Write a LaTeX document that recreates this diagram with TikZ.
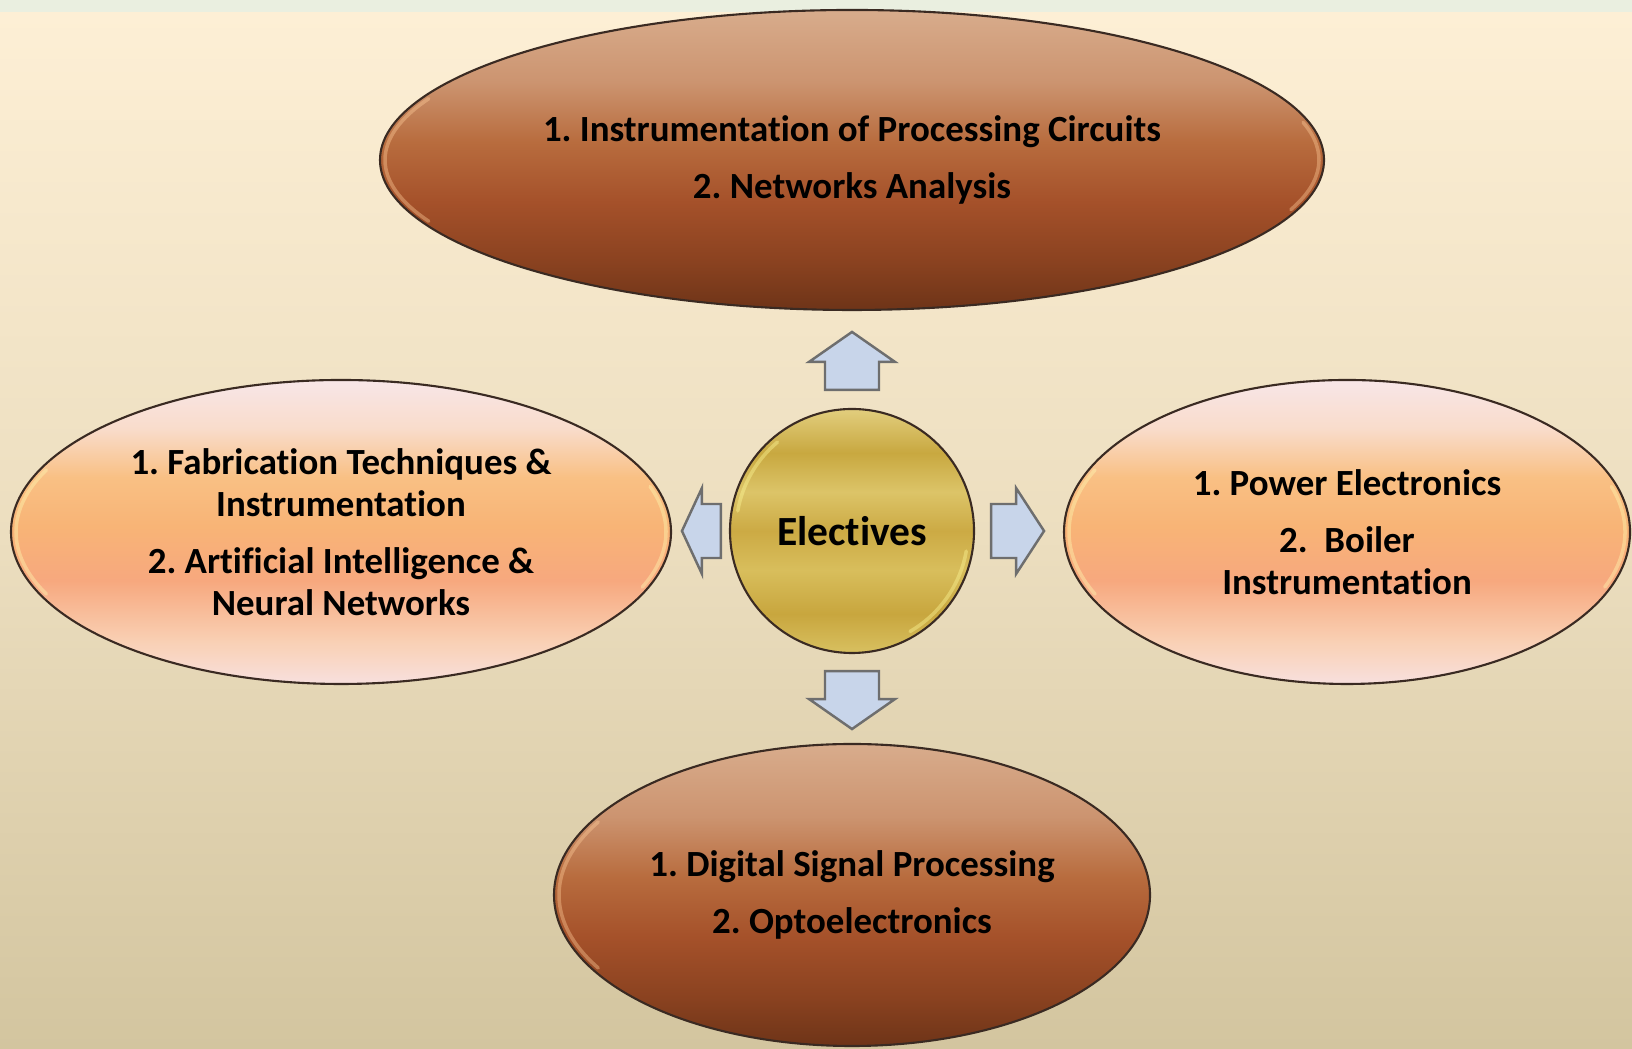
\documentclass[tikz,border=0pt]{standalone}
\usepackage{fontspec}
\setmainfont[Ligatures=NoCommon]{Carlito}
\usetikzlibrary{calc,positioning,shapes.geometric}

\definecolor{bgtop}{HTML}{FDEFD5}
\definecolor{bgbot}{HTML}{D3C59F}
\definecolor{stripgreen}{HTML}{EAEFE0}
\definecolor{edgedark}{HTML}{3A2A22}
\definecolor{arrowblue}{HTML}{C8D5EA}
\definecolor{arrowedge}{HTML}{6E6E6E}
% brown stops
\definecolor{brA}{HTML}{6E3418}
\definecolor{brB}{HTML}{8A4220}
\definecolor{brC}{HTML}{A5512A}
\definecolor{brD}{HTML}{B86C3E}
\definecolor{brE}{HTML}{CC9470}
\definecolor{brF}{HTML}{D8AC8C}
% orange stops
\definecolor{orA}{HTML}{F8E0DE}
\definecolor{orB}{HTML}{F9D0B4}
\definecolor{orC}{HTML}{F7A87E}
\definecolor{orD}{HTML}{F8B476}
\definecolor{orE}{HTML}{F9C084}
\definecolor{orF}{HTML}{F9DCCB}
\definecolor{orG}{HTML}{F8E6E8}
% gold stops
\definecolor{gdA}{HTML}{D8C060}
\definecolor{gdB}{HTML}{C8A63E}
\definecolor{gdC}{HTML}{D8BE5C}
\definecolor{gdD}{HTML}{CCAA44}
\definecolor{gdE}{HTML}{DCC468}
\definecolor{gdF}{HTML}{C8A840}
\definecolor{gdG}{HTML}{E2CE7E}

\pgfdeclareverticalshading{brownshade}{100bp}{color(0bp)=(brA); color(25bp)=(brA); color(33bp)=(brB); color(43bp)=(brC); color(53bp)=(brD); color(63bp)=(brE); color(75bp)=(brF); color(100bp)=(brF)}
\pgfdeclareverticalshading{orangeshade}{100bp}{color(0bp)=(orA); color(25bp)=(orA); color(32bp)=(orB); color(42bp)=(orC); color(51bp)=(orD); color(59bp)=(orE); color(67bp)=(orF); color(75bp)=(orG); color(100bp)=(orG)}
\pgfdeclareverticalshading{goldshade}{100bp}{color(0bp)=(gdA); color(25bp)=(gdA); color(33bp)=(gdB); color(42bp)=(gdC); color(50bp)=(gdD); color(58bp)=(gdE); color(66bp)=(gdF); color(75bp)=(gdG); color(100bp)=(gdG)}

\tikzset{
  brownel/.style={ellipse, draw=edgedark, line width=0.6pt, shading=brownshade, inner sep=0pt, align=center, font=\fontsize{10.5}{12}\selectfont\bfseries},
  orangeel/.style={ellipse, draw=edgedark, line width=0.6pt, shading=orangeshade, inner sep=0pt, align=center, font=\fontsize{10.5}{12}\selectfont\bfseries},
  hub/.style={circle, draw=edgedark, line width=0.6pt, shading=goldshade, minimum size=2.44cm, inner sep=0pt, font=\fontsize{11.8}{14}\selectfont\bfseries},
  barr/.style={fill=arrowblue, draw=arrowedge, line width=0.7pt, line join=miter},
  rim/.style={line width=1pt, opacity=0.4, line cap=round}
}

% block arrow: base point, direction, length, head length
\newcommand{\barrow}[4]{\draw[barr, shift={(#1)}, rotate=#2] (0,-0.27) -- ({#3-#4},-0.27) -- ({#3-#4},-0.43) -- (#3,0) -- ({#3-#4},0.43) -- ({#3-#4},0.27) -- (0,0.27) -- cycle;}
\def\rimarc[#1](#2)(#3:#4:#5:#6){\draw[#1] ($(#2)+({#5*cos(#3)},{#6*sin(#3)})$) arc (#3:#4:#5 and #6);}

\begin{document}
\frenchspacing
\begin{tikzpicture}
			%%%%% START %%%%%
			\useasboundingbox (0,0) rectangle (16.32,10.49);
			\shade[top color=bgtop, bottom color=bgbot, middle color=bgtop!60!bgbot] (0,0) rectangle (16.32,10.37);
			\fill[stripgreen] (0,10.37) rectangle (16.32,10.49);
			
			\node[hub] (elec) at (8.52,5.18) {Electives};
			
			\node[brownel, minimum width=9.44cm, minimum height=3.0cm] (topel) at (8.52,8.89)
				{1. Instrumentation of Processing Circuits\\[4.2pt] 2. Networks Analysis};
			\node[orangeel, minimum width=6.6cm, minimum height=3.04cm] (leftel) at (3.41,5.17)
				{1. Fabrication Techniques \&\\ Instrumentation\\[4.2pt] 2. Artificial Intelligence \&\\ Neural Networks};
			\node[orangeel, minimum width=5.66cm, minimum height=3.04cm] (rightel) at (13.47,5.17)
				{1. Power Electronics\\[4.2pt] 2.\ \ Boiler\\ Instrumentation};
			\node[brownel, minimum width=5.96cm, minimum height=3.02cm] (botel) at (8.52,1.54)
				{1. Digital Signal Processing\\[4.2pt] 2. Optoelectronics};
			
			% glossy rims
			\rimarc[rim, color=orange!40!white](topel.center)(155:205:4.67:1.45)
			\rimarc[rim, color=orange!40!white](topel.center)(-20:15:4.67:1.45)
			\rimarc[rim, color=orange!40!white](botel.center)(150:210:2.93:1.46)
			\rimarc[rim, color=yellow!30!white](leftel.center)(155:205:3.25:1.47)
			\rimarc[rim, color=yellow!30!white](leftel.center)(-22:18:3.25:1.47)
			\rimarc[rim, color=yellow!30!white](rightel.center)(155:205:2.78:1.47)
			\rimarc[rim, color=yellow!30!white](rightel.center)(-22:18:2.78:1.47)
			\rimarc[rim, color=yellow!40!white](elec.center)(130:170:1.16:1.16)
			\rimarc[rim, color=yellow!40!white](elec.center)(-60:-10:1.16:1.16)
			
			\coordinate[above=0.18 of elec.north] (upbase);
			\coordinate[below=0.17 of elec.south] (downbase);
			\coordinate[left=0.08 of elec.west] (leftbase);
			\coordinate[right=0.16 of elec.east] (rightbase);
			
			\barrow{upbase}{90}{0.58}{0.30}
			\barrow{downbase}{-90}{0.58}{0.30}
			\barrow{leftbase}{180}{0.39}{0.20}
			\barrow{rightbase}{0}{0.53}{0.28}
			
			%%%%% END %%%%%
\end{tikzpicture}
\end{document}
